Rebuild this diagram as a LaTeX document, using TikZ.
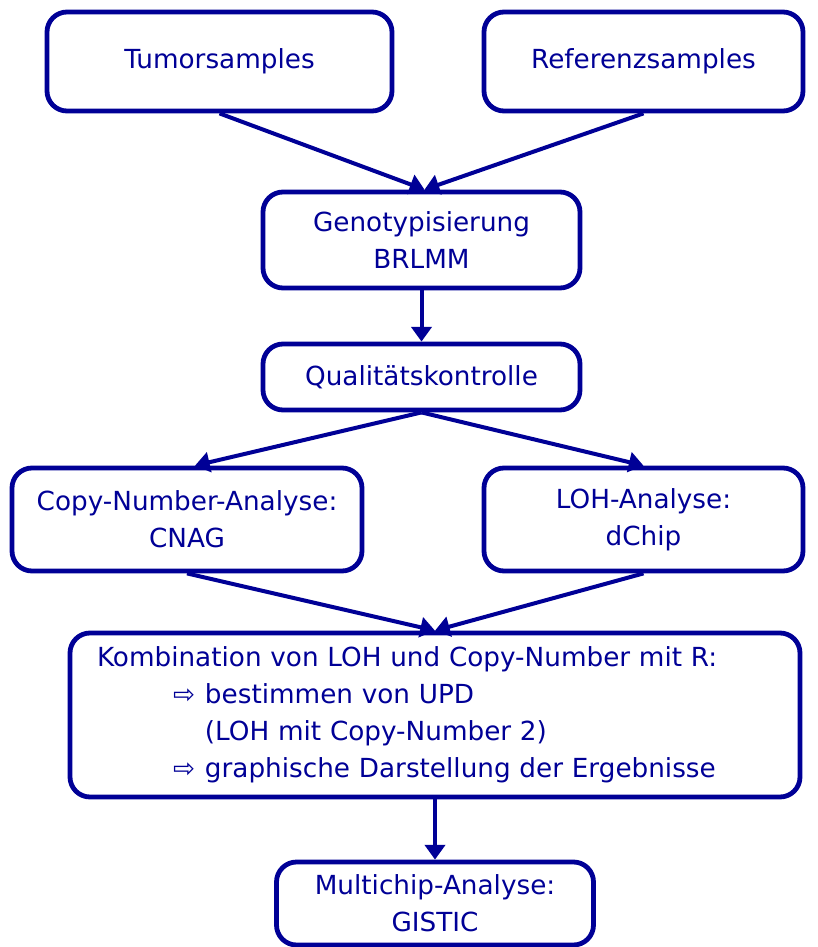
\documentclass[tikz,border=0pt]{standalone}
\usepackage{fontspec}
\setmainfont{DejaVu Sans}
\usetikzlibrary{arrows.meta}
\definecolor{flowblue}{RGB}{0,0,150}

\begin{document}
\begin{tikzpicture}[x=0.75pt,y=-0.75pt]
                \tikzstyle{every node}=[font=\fontsize{19.7}{27.7}\selectfont,text=flowblue]
                \tikzstyle{stepbox}=[draw=flowblue,line width=3.6pt,rounded corners=15pt,align=center,inner sep=0pt]
                \tikzstyle{flow}=[draw=flowblue,line width=3pt,-{Triangle[length=11pt,width=15pt]}]
                \useasboundingbox (0,0) rectangle (818,947);
                % sample boxes
                \node[stepbox,minimum width=345*0.75pt,minimum height=99*0.75pt] (tumor) at (219.5,61.5) {Tumorsamples};
                \node[stepbox,minimum width=319*0.75pt,minimum height=99*0.75pt] (ref) at (643.5,61.5) {Referenzsamples};
                % genotyping and QC
                \node[stepbox,minimum width=317*0.75pt,minimum height=96*0.75pt] (geno) at (421.5,240) {Genotypisierung\\BRLMM};
                \node[stepbox,minimum width=317*0.75pt,minimum height=66*0.75pt] (qc) at (421.5,377) {Qualitätskontrolle};
                % analyses
                \node[stepbox,minimum width=350*0.75pt,minimum height=103*0.75pt] (cnag) at (187,519.5) {Copy-Number-Analyse:\\CNAG};
                \node[stepbox,minimum width=319*0.75pt,minimum height=103*0.75pt] (loh) at (643.5,519.5) {LOH-Analyse:\\dChip};
                \node[stepbox,align=left,text width=676*0.75pt,inner xsep=27*0.75pt,minimum height=164*0.75pt] (comb) at (435,715)
                    {Kombination von LOH und Copy-Number mit R:\\
                     \hspace*{57pt}\makebox[24pt][l]{⇨}bestimmen von UPD\\
                     \hspace*{81pt}(LOH mit Copy-Number 2)\\
                     \hspace*{57pt}\makebox[24pt][l]{⇨}graphische Darstellung der Ergebnisse};
                \node[stepbox,minimum width=317*0.75pt,minimum height=83*0.75pt] (multi) at (435,903.5) {Multichip-Analyse:\\GISTIC};
                % connectors
                \coordinate (g1) at ([xshift=3*0.75pt]geno.north);
                \draw[flow] (tumor.south) -- (g1);
                \draw[flow] (ref.south) -- (g1);
                \draw[flow] (geno.south) -- (qc.north);
                \draw[flow] (qc.south) -- ([xshift=8*0.75pt]cnag.north);
                \draw[flow] (qc.south) -- (loh.north);
                \draw[flow] (cnag.south) -- (comb.north);
                \draw[flow] (loh.south) -- (comb.north);
                \draw[flow] (comb.south) -- (multi.north);
            \end{tikzpicture}
\end{document}
